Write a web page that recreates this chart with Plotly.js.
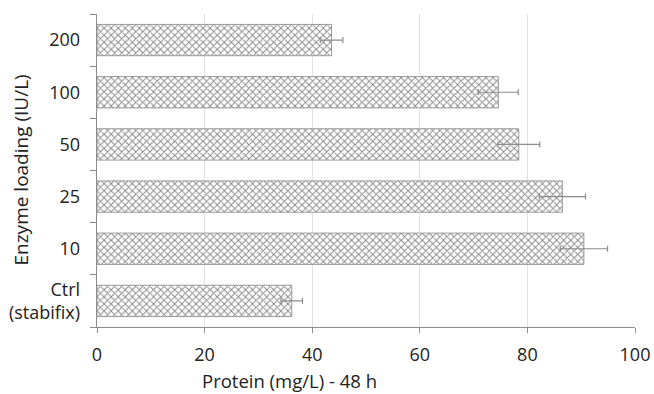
<!DOCTYPE html>
<html>
<head>
<meta charset="utf-8">
<script src="https://cdn.plot.ly/plotly-3.0.1.min.js"></script>
<style>html,body{margin:0;padding:0;background:#fff;}#chart{width:654px;height:394px;}</style>
</head>
<body>
<div id="chart"></div>
<script>
var categories = ["Ctrl<br>(stabifix)", "10", "25", "50", "100", "200"];
var protein = [36.2, 90.5, 86.5, 78.4, 74.6, 43.6];
var errors = [2.0, 4.4, 4.3, 3.9, 3.7, 2.1];
var xTicks = [0, 20, 40, 60, 80, 100];

var trace = {
  type: "bar",
  orientation: "h",
  y: categories,
  x: protein,
  marker: {
    color: "#ffffff",
    line: {color: "#999999", width: 1},
    pattern: {shape: "x", fgcolor: "#8a8a8a", bgcolor: "#ffffff", size: 5, solidity: 0.35}
  },
  error_x: {type: "data", array: errors, visible: true, color: "#8c8c8c", thickness: 1.2, width: 3},
  hoverinfo: "none"
};

var font = "'Open Sans', 'Liberation Sans', sans-serif";
var layout = {
  width: 654, height: 394,
  margin: {l: 97, r: 19, t: 14, b: 67},
  paper_bgcolor: "#ffffff", plot_bgcolor: "#ffffff",
  showlegend: false,
  bargap: 0.4,
  font: {family: font, size: 18, color: "#222"},
  xaxis: {
    range: [0, 100],
    tickvals: xTicks,
    ticktext: xTicks.map(String),
    showgrid: true, gridcolor: "#e2e2e2", gridwidth: 1,
    zeroline: false,
    showline: true, linecolor: "#8c8c8c", linewidth: 1.3,
    ticks: "outside", ticklen: 5, tickcolor: "#8c8c8c",
    ticklabelstandoff: 6,
    tickfont: {family: font, size: 18, color: "#222"},
    fixedrange: true
  },
  yaxis: {
    type: "category",
    categoryorder: "array",
    categoryarray: categories,
    showline: true, linecolor: "#8c8c8c", linewidth: 1.3,
    ticks: "outside", ticklen: 6, tickcolor: "#8c8c8c",
    tickson: "boundaries",
    ticklabelstandoff: 12,
    showgrid: false,
    tickfont: {family: font, size: 18, color: "#222"},
    fixedrange: true
  },
  annotations: [{
    text: "Protein (mg/L) - 48 h",
    xref: "paper", yref: "paper",
    x: (289 - 97) / 538, y: 0,
    yshift: -53,
    xanchor: "center", yanchor: "middle",
    showarrow: false,
    font: {family: font, size: 18.5, color: "#222"}
  }, {
    text: "Enzyme loading (IU/L)",
    xref: "paper", yref: "paper",
    x: (20 - 97) / 538, y: 0.5,
    xanchor: "center", yanchor: "middle",
    textangle: -90,
    showarrow: false,
    font: {family: font, size: 19, color: "#222"}
  }]
};

Plotly.newPlot("chart", [trace], layout, {displayModeBar: false, staticPlot: true});
</script>
</body>
</html>
